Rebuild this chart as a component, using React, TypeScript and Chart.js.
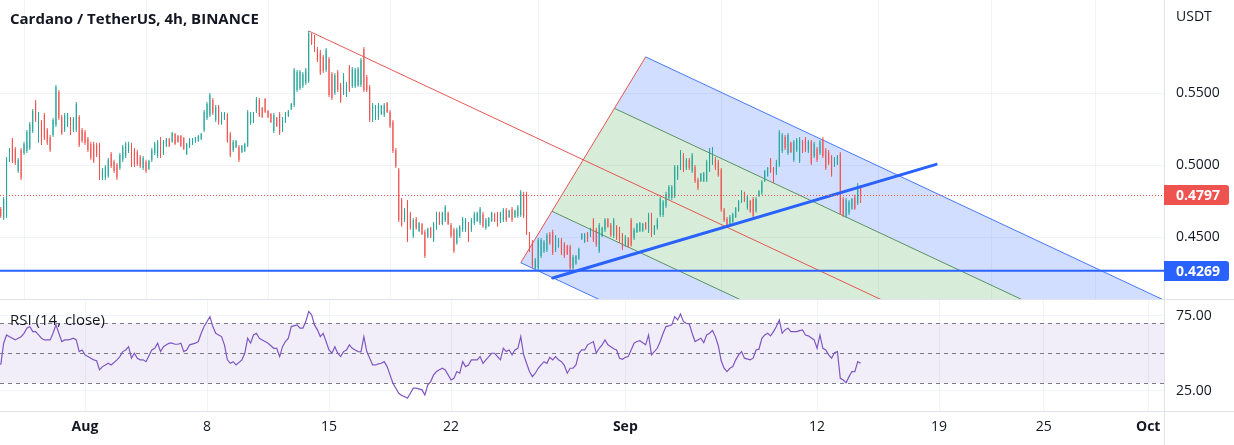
import React, { useEffect, useRef } from 'react';
import { Chart, registerables } from 'chart.js';

Chart.register(...registerables);

const FONT = "'Open Sans', 'Noto Sans', sans-serif";

// ---- time ----
const startTime = Date.UTC(2022, 6, 27, 4); // first 4h candle (Jul 27 04:00 UTC)
const CANDLE_MS = 4 * 3600 * 1000;
const AUG1 = Date.UTC(2022, 7, 1);
const DAY = 86400000;
const dayOf = (t: number) => (t - AUG1) / DAY;

// ---- candles (ADA/USDT, 4h) ----
const opens = [
  0.4698, 0.4636, 0.4650, 0.5039, 0.5177, 0.5115, 0.4962, 0.5108, 0.5087, 0.5101,
  0.5122, 0.5240, 0.5441, 0.5170, 0.5302, 0.5351, 0.5247, 0.5198, 0.5212, 0.5282,
  0.5511, 0.5337, 0.5247, 0.5275, 0.5323, 0.5247, 0.5247, 0.5337, 0.5247, 0.5233,
  0.5184, 0.5150, 0.5150, 0.5143, 0.5143, 0.4914, 0.4914, 0.4928, 0.5080, 0.5025,
  0.5004, 0.4983, 0.5039, 0.5066, 0.5101, 0.5143, 0.5108, 0.5094, 0.5059, 0.4983,
  0.5025, 0.4976, 0.5039, 0.5087, 0.5066, 0.5184, 0.5087, 0.5136, 0.5184, 0.5164,
  0.5219, 0.5205, 0.5205, 0.5191, 0.5080, 0.5129, 0.5150, 0.5164, 0.5170, 0.5184,
  0.5247, 0.5330, 0.5351, 0.5455, 0.5316, 0.5406, 0.5295, 0.5323, 0.5351, 0.5219,
  0.5108, 0.5129, 0.5129, 0.5094, 0.5101, 0.5143, 0.5295, 0.5302, 0.5379, 0.5455,
  0.5399, 0.5462, 0.5379, 0.5358, 0.5240, 0.5330, 0.5358, 0.5247, 0.5302, 0.5344,
  0.5393, 0.5420, 0.5524, 0.5538, 0.5552, 0.5573, 0.5587, 0.5913, 0.5892, 0.5809,
  0.5788, 0.5753, 0.5663, 0.5740, 0.5635, 0.5504, 0.5649, 0.5559, 0.5504, 0.5490,
  0.5684, 0.5552, 0.5552, 0.5559, 0.5559, 0.5809, 0.5615, 0.5545, 0.5316, 0.5330,
  0.5330, 0.5358, 0.5351, 0.5434, 0.5372, 0.5302, 0.5108, 0.4969, 0.4761, 0.4622,
  0.4747, 0.4664, 0.4511, 0.4629, 0.4546, 0.4594, 0.4539, 0.4504, 0.4567, 0.4483,
  0.4567, 0.4671, 0.4594, 0.4622, 0.4671, 0.4587, 0.4553, 0.4462, 0.4511, 0.4553,
  0.4553, 0.4594, 0.4553, 0.4601, 0.4615, 0.4601, 0.4664, 0.4567, 0.4580, 0.4615,
  0.4664, 0.4664, 0.4608, 0.4622, 0.4692, 0.4643, 0.4698, 0.4643, 0.4650, 0.4657,
  0.4803, 0.4803, 0.4525, 0.4469, 0.4289, 0.4289, 0.4372, 0.4407, 0.4414, 0.4525,
  0.4539, 0.4414, 0.4435, 0.4483, 0.4455, 0.4442, 0.4435, 0.4289, 0.4317, 0.4351,
  0.4490, 0.4469, 0.4532, 0.4511, 0.4622, 0.4553, 0.4407, 0.4511, 0.4553, 0.4629,
  0.4587, 0.4511, 0.4574, 0.4560, 0.4518, 0.4449, 0.4497, 0.4622, 0.4497, 0.4539,
  0.4546, 0.4546, 0.4601, 0.4546, 0.4657, 0.4525, 0.4567, 0.4657, 0.4657, 0.4719,
  0.4775, 0.4775, 0.4789, 0.4914, 0.4983, 0.5073, 0.4983, 0.5039, 0.4962, 0.4990,
  0.4900, 0.4893, 0.4893, 0.4900, 0.4969, 0.5018, 0.5045, 0.5025, 0.4969, 0.4692,
  0.4629, 0.4587, 0.4608, 0.4643, 0.4685, 0.4747, 0.4810, 0.4705, 0.4754, 0.4768,
  0.4685, 0.4789, 0.4810, 0.4893, 0.4928, 0.5039, 0.4976, 0.4948, 0.5004, 0.5101,
  0.5198, 0.5087, 0.5157, 0.5039, 0.5108, 0.5032, 0.5164, 0.5184, 0.5101, 0.5164,
  0.5066, 0.5115, 0.5087, 0.5184, 0.5108, 0.5094, 0.5059, 0.4997, 0.5011, 0.5080,
  0.4768, 0.4650, 0.4671, 0.4699, 0.4782, 0.4740, 0.4851,
];
const highs = [
  0.4712, 0.4782, 0.5059, 0.5122, 0.5191, 0.5129, 0.5052, 0.5122, 0.5164, 0.5247,
  0.5302, 0.5393, 0.5455, 0.5372, 0.5316, 0.5365, 0.5261, 0.5212, 0.5330, 0.5559,
  0.5524, 0.5351, 0.5365, 0.5365, 0.5337, 0.5337, 0.5441, 0.5351, 0.5261, 0.5247,
  0.5198, 0.5164, 0.5164, 0.5157, 0.5157, 0.4983, 0.5004, 0.5052, 0.5094, 0.5039,
  0.5018, 0.5087, 0.5143, 0.5164, 0.5164, 0.5157, 0.5122, 0.5108, 0.5073, 0.5066,
  0.5039, 0.5039, 0.5122, 0.5164, 0.5177, 0.5198, 0.5177, 0.5191, 0.5191, 0.5233,
  0.5226, 0.5212, 0.5212, 0.5198, 0.5157, 0.5191, 0.5191, 0.5198, 0.5212, 0.5226,
  0.5386, 0.5441, 0.5504, 0.5469, 0.5420, 0.5420, 0.5372, 0.5372, 0.5365, 0.5233,
  0.5177, 0.5177, 0.5143, 0.5143, 0.5157, 0.5386, 0.5372, 0.5372, 0.5476, 0.5469,
  0.5406, 0.5469, 0.5386, 0.5365, 0.5365, 0.5337, 0.5372, 0.5337, 0.5372, 0.5386,
  0.5434, 0.5677, 0.5663, 0.5663, 0.5649, 0.5677, 0.5934, 0.5920, 0.5906, 0.5823,
  0.5802, 0.5767, 0.5816, 0.5753, 0.5649, 0.5642, 0.5663, 0.5573, 0.5642, 0.5580,
  0.5698, 0.5684, 0.5677, 0.5684, 0.5747, 0.5823, 0.5629, 0.5559, 0.5434, 0.5420,
  0.5434, 0.5420, 0.5434, 0.5441, 0.5386, 0.5316, 0.5122, 0.4983, 0.4775, 0.4705,
  0.4761, 0.4678, 0.4636, 0.4643, 0.4608, 0.4601, 0.4553, 0.4567, 0.4574, 0.4608,
  0.4678, 0.4678, 0.4678, 0.4726, 0.4678, 0.4601, 0.4567, 0.4567, 0.4587, 0.4643,
  0.4636, 0.4608, 0.4636, 0.4678, 0.4678, 0.4712, 0.4678, 0.4636, 0.4643, 0.4678,
  0.4671, 0.4678, 0.4678, 0.4705, 0.4705, 0.4692, 0.4712, 0.4692, 0.4726, 0.4830,
  0.4817, 0.4817, 0.4539, 0.4483, 0.4358, 0.4497, 0.4497, 0.4483, 0.4532, 0.4539,
  0.4553, 0.4518, 0.4497, 0.4497, 0.4469, 0.4449, 0.4449, 0.4379, 0.4379, 0.4428,
  0.4532, 0.4532, 0.4539, 0.4567, 0.4636, 0.4567, 0.4601, 0.4574, 0.4636, 0.4636,
  0.4601, 0.4636, 0.4587, 0.4574, 0.4532, 0.4518, 0.4504, 0.4636, 0.4567, 0.4601,
  0.4608, 0.4601, 0.4608, 0.4671, 0.4671, 0.4587, 0.4636, 0.4782, 0.4761, 0.4817,
  0.4865, 0.4865, 0.5004, 0.5004, 0.5108, 0.5087, 0.5052, 0.5052, 0.5087, 0.5004,
  0.4914, 0.4948, 0.4955, 0.5039, 0.5122, 0.5129, 0.5059, 0.5039, 0.4983, 0.4705,
  0.4643, 0.4657, 0.4671, 0.4712, 0.4761, 0.4830, 0.4817, 0.4796, 0.4761, 0.4782,
  0.4782, 0.4830, 0.4900, 0.4969, 0.4990, 0.5052, 0.4990, 0.5039, 0.5247, 0.5226,
  0.5212, 0.5226, 0.5164, 0.5177, 0.5191, 0.5198, 0.5177, 0.5198, 0.5177, 0.5177,
  0.5164, 0.5129, 0.5177, 0.5198, 0.5122, 0.5108, 0.5073, 0.5059, 0.5073, 0.5094,
  0.4782, 0.4775, 0.4761, 0.4775, 0.4796, 0.4879, 0.4865,
];
const lows = [
  0.4636, 0.4622, 0.4636, 0.5025, 0.5018, 0.5004, 0.4948, 0.4900, 0.5073, 0.5087,
  0.5108, 0.5226, 0.5302, 0.5157, 0.5143, 0.5177, 0.5143, 0.5094, 0.5198, 0.5268,
  0.5316, 0.5212, 0.5233, 0.5268, 0.5212, 0.5233, 0.5233, 0.5129, 0.5157, 0.5143,
  0.5094, 0.5039, 0.5018, 0.5059, 0.4900, 0.4900, 0.4900, 0.4914, 0.4983, 0.4948,
  0.4900, 0.4969, 0.5025, 0.5052, 0.5087, 0.4990, 0.4990, 0.4997, 0.4983, 0.4969,
  0.4948, 0.4969, 0.5025, 0.5073, 0.5052, 0.5052, 0.5073, 0.5129, 0.5129, 0.5157,
  0.5143, 0.5157, 0.5129, 0.5108, 0.5073, 0.5122, 0.5143, 0.5157, 0.5164, 0.5177,
  0.5233, 0.5316, 0.5337, 0.5351, 0.5302, 0.5282, 0.5282, 0.5316, 0.5157, 0.5059,
  0.5094, 0.5122, 0.5025, 0.5087, 0.5094, 0.5129, 0.5282, 0.5295, 0.5365, 0.5337,
  0.5330, 0.5365, 0.5330, 0.5295, 0.5226, 0.5268, 0.5212, 0.5233, 0.5295, 0.5337,
  0.5386, 0.5406, 0.5511, 0.5524, 0.5538, 0.5559, 0.5573, 0.5837, 0.5788, 0.5719,
  0.5629, 0.5642, 0.5649, 0.5476, 0.5455, 0.5490, 0.5511, 0.5434, 0.5490, 0.5476,
  0.5511, 0.5538, 0.5538, 0.5545, 0.5545, 0.5511, 0.5511, 0.5302, 0.5302, 0.5316,
  0.5316, 0.5351, 0.5337, 0.5365, 0.5261, 0.5087, 0.4983, 0.4608, 0.4574, 0.4608,
  0.4469, 0.4553, 0.4497, 0.4553, 0.4539, 0.4518, 0.4358, 0.4497, 0.4497, 0.4469,
  0.4553, 0.4587, 0.4587, 0.4608, 0.4587, 0.4497, 0.4393, 0.4449, 0.4497, 0.4539,
  0.4539, 0.4469, 0.4539, 0.4587, 0.4608, 0.4587, 0.4567, 0.4553, 0.4574, 0.4608,
  0.4608, 0.4574, 0.4601, 0.4608, 0.4608, 0.4636, 0.4608, 0.4636, 0.4636, 0.4643,
  0.4636, 0.4518, 0.4400, 0.4289, 0.4275, 0.4275, 0.4358, 0.4393, 0.4400, 0.4449,
  0.4379, 0.4400, 0.4428, 0.4379, 0.4358, 0.4379, 0.4275, 0.4275, 0.4310, 0.4345,
  0.4483, 0.4462, 0.4469, 0.4504, 0.4469, 0.4435, 0.4393, 0.4504, 0.4539, 0.4567,
  0.4504, 0.4497, 0.4483, 0.4462, 0.4414, 0.4435, 0.4428, 0.4435, 0.4483, 0.4532,
  0.4539, 0.4539, 0.4553, 0.4532, 0.4504, 0.4518, 0.4553, 0.4643, 0.4643, 0.4705,
  0.4761, 0.4761, 0.4775, 0.4900, 0.4969, 0.4955, 0.4969, 0.4969, 0.4948, 0.4879,
  0.4830, 0.4886, 0.4886, 0.4886, 0.4955, 0.5004, 0.4969, 0.4921, 0.4678, 0.4608,
  0.4567, 0.4574, 0.4601, 0.4636, 0.4678, 0.4740, 0.4747, 0.4692, 0.4671, 0.4636,
  0.4671, 0.4782, 0.4796, 0.4886, 0.4921, 0.4948, 0.4879, 0.4934, 0.4990, 0.5087,
  0.5108, 0.5073, 0.5087, 0.5025, 0.5094, 0.5018, 0.5087, 0.5094, 0.5087, 0.5004,
  0.5052, 0.5025, 0.5073, 0.5052, 0.4969, 0.5004, 0.4921, 0.4990, 0.5004, 0.4657,
  0.4643, 0.4636, 0.4657, 0.4692, 0.4692, 0.4726, 0.4740,
];
const closes = [
  0.4650, 0.4768, 0.5045, 0.5108, 0.5032, 0.5018, 0.5039, 0.4914, 0.5150, 0.5233,
  0.5288, 0.5379, 0.5316, 0.5358, 0.5157, 0.5191, 0.5157, 0.5108, 0.5316, 0.5545,
  0.5330, 0.5226, 0.5351, 0.5358, 0.5226, 0.5323, 0.5427, 0.5143, 0.5170, 0.5157,
  0.5108, 0.5052, 0.5032, 0.5073, 0.4914, 0.4969, 0.4990, 0.5039, 0.4997, 0.4962,
  0.4914, 0.5073, 0.5129, 0.5150, 0.5150, 0.5004, 0.5004, 0.5011, 0.4997, 0.5052,
  0.4962, 0.5032, 0.5108, 0.5150, 0.5164, 0.5066, 0.5164, 0.5184, 0.5136, 0.5226,
  0.5150, 0.5164, 0.5136, 0.5115, 0.5150, 0.5184, 0.5184, 0.5191, 0.5205, 0.5219,
  0.5372, 0.5427, 0.5490, 0.5365, 0.5406, 0.5295, 0.5358, 0.5365, 0.5170, 0.5073,
  0.5164, 0.5170, 0.5039, 0.5136, 0.5150, 0.5372, 0.5358, 0.5365, 0.5462, 0.5351,
  0.5337, 0.5372, 0.5337, 0.5302, 0.5351, 0.5275, 0.5226, 0.5323, 0.5365, 0.5379,
  0.5427, 0.5663, 0.5649, 0.5649, 0.5635, 0.5663, 0.5920, 0.5844, 0.5802, 0.5733,
  0.5642, 0.5656, 0.5802, 0.5490, 0.5469, 0.5629, 0.5524, 0.5448, 0.5629, 0.5566,
  0.5524, 0.5670, 0.5663, 0.5670, 0.5733, 0.5524, 0.5524, 0.5316, 0.5420, 0.5406,
  0.5420, 0.5413, 0.5420, 0.5372, 0.5275, 0.5101, 0.4997, 0.4622, 0.4587, 0.4692,
  0.4483, 0.4567, 0.4622, 0.4567, 0.4601, 0.4525, 0.4372, 0.4560, 0.4504, 0.4594,
  0.4664, 0.4594, 0.4671, 0.4712, 0.4594, 0.4511, 0.4407, 0.4553, 0.4574, 0.4629,
  0.4622, 0.4483, 0.4622, 0.4664, 0.4671, 0.4698, 0.4580, 0.4622, 0.4636, 0.4671,
  0.4615, 0.4587, 0.4671, 0.4692, 0.4622, 0.4685, 0.4622, 0.4685, 0.4712, 0.4817,
  0.4650, 0.4532, 0.4414, 0.4303, 0.4345, 0.4483, 0.4483, 0.4469, 0.4518, 0.4462,
  0.4393, 0.4504, 0.4490, 0.4393, 0.4372, 0.4386, 0.4289, 0.4365, 0.4372, 0.4421,
  0.4525, 0.4525, 0.4476, 0.4560, 0.4483, 0.4449, 0.4587, 0.4567, 0.4622, 0.4574,
  0.4518, 0.4622, 0.4497, 0.4476, 0.4428, 0.4504, 0.4435, 0.4449, 0.4553, 0.4594,
  0.4601, 0.4594, 0.4560, 0.4657, 0.4518, 0.4580, 0.4622, 0.4768, 0.4747, 0.4803,
  0.4851, 0.4851, 0.4990, 0.4990, 0.5094, 0.4969, 0.5039, 0.4983, 0.5073, 0.4893,
  0.4844, 0.4941, 0.4948, 0.5025, 0.5108, 0.5115, 0.4983, 0.4934, 0.4692, 0.4622,
  0.4580, 0.4643, 0.4664, 0.4705, 0.4754, 0.4823, 0.4754, 0.4782, 0.4678, 0.4650,
  0.4768, 0.4823, 0.4886, 0.4962, 0.4983, 0.4962, 0.4893, 0.5025, 0.5233, 0.5212,
  0.5122, 0.5212, 0.5094, 0.5164, 0.5177, 0.5184, 0.5101, 0.5108, 0.5164, 0.5018,
  0.5150, 0.5039, 0.5164, 0.5066, 0.4983, 0.5018, 0.4934, 0.5052, 0.5066, 0.4671,
  0.4657, 0.4761, 0.4747, 0.4768, 0.4699, 0.4865, 0.4797,
];

// ---- RSI(14, close) readings: [candle index, value] ----
const rsiReadings: [number, number][] = [
  [0, 42.2], [1, 56.7], [2, 62.2], [3, 61], [5, 58.9], [6, 60], [7, 61], [8, 63.3], [9, 66.7], [10, 67.8],
  [11, 64.4], [12, 64.4], [13, 62.2], [14, 60], [15, 58.9], [17, 58.9], [18, 63.3], [19, 68.9], [20, 63.3], [21, 57.8],
  [22, 58.9], [23, 58.9], [24, 59.3], [25, 60], [26, 58.9], [27, 51.1], [28, 52.2], [29, 48.9], [30, 47.8], [31, 46.7],
  [32, 45.6], [33, 45], [34, 38.9], [35, 41.1], [36, 42.2], [37, 43.3], [38, 42.2], [40, 45.6], [41, 47.8], [42, 51.1],
  [43, 52.2], [44, 54.4], [45, 46.7], [46, 50], [47, 46.7], [48, 45.6], [49, 45.6], [50, 44.4], [52, 52.2], [53, 53.3],
  [54, 56.7], [55, 51.1], [56, 54.4], [57, 55.6], [58, 56.7], [59, 56.7], [60, 56], [61, 56], [62, 56.7], [63, 51.1],
  [64, 52.2], [65, 55.6], [67, 56.7], [68, 57.8], [69, 63.3], [70, 67.8], [72, 74.4], [73, 67.8], [74, 63.3], [75, 62.2],
  [76, 61.1], [77, 55.6], [78, 45.6], [79, 43.3], [80, 44.4], [81, 42.2], [83, 45.6], [84, 50], [85, 60], [86, 56.7],
  [87, 62.2], [88, 63.3], [89, 60], [90, 58.9], [91, 57.8], [92, 56.7], [94, 53.3], [95, 53.3], [96, 47.8], [97, 54.4],
  [98, 57.8], [99, 60], [100, 67.8], [102, 68.9], [103, 66.7], [104, 66.7], [105, 71.1], [106, 77.8], [107, 75.6], [108, 68.9],
  [109, 65.6], [110, 61.1], [111, 63.3], [113, 52.2], [114, 50], [115, 54.4], [116, 50], [117, 47.8], [118, 51.1], [119, 52.2],
  [120, 55.6], [121, 53.3], [122, 52.2], [123, 51.1], [124, 51], [125, 61.1], [126, 51.1], [127, 46.7], [128, 42.2], [129, 42.2],
  [130, 42.9], [131, 43.3], [132, 44.4], [133, 41.1], [134, 35.6], [135, 30], [136, 26.7], [137, 23.3], [138, 21.8], [139, 21.1],
  [140, 20], [141, 23.3], [142, 26.7], [143, 26.7], [145, 25.6], [146, 22.2], [147, 28.9], [148, 31.1], [149, 35.6], [150, 37.8],
  [151, 39], [152, 40], [153, 38.9], [154, 35.6], [155, 32.2], [156, 33.3], [157, 37.8], [158, 36.7], [159, 44.4], [160, 41.1],
  [161, 42.2], [162, 45.6], [164, 45.6], [165, 47.8], [166, 43.3], [167, 45.6], [168, 47.8], [169, 50], [170, 50], [172, 45.6],
  [173, 53.3], [174, 51.1], [175, 52.2], [176, 48.9], [177, 52.2], [178, 53.3], [179, 61.1], [180, 48.9], [181, 43.3], [182, 37.8],
  [183, 34.4], [184, 36.7], [185, 40], [186, 42.2], [187, 44.4], [188, 43.3], [189, 47.3], [190, 45.6], [191, 47.8], [192, 45.6],
  [193, 44.4], [194, 42], [195, 36.7], [196, 40], [197, 40], [198, 42.2], [199, 50], [200, 52.2], [201, 52.2], [202, 55.6],
  [204, 57.8], [205, 50], [206, 53.3], [207, 55.6], [208, 58.9], [209, 55.6], [210, 54.4], [211, 53], [212, 52.2], [213, 46.7],
  [214, 46], [215, 47.3], [216, 47.8], [217, 52.2], [218, 56.7], [219, 57.8], [220, 58.4], [221, 57], [222, 55.6], [223, 62.2],
  [224, 48.9], [226, 53.3], [227, 57.8], [228, 63.3], [229, 67.8], [230, 68.2], [231, 68.9], [232, 74.4], [233, 72.2], [234, 76.2],
  [235, 71.1], [236, 70], [237, 69.6], [238, 63.3], [239, 57.8], [241, 60], [242, 57.1], [243, 62.2], [244, 63.3], [245, 65.1],
  [246, 61.1], [247, 55], [248, 45], [249, 40], [250, 37.8], [251, 40], [252, 41.1], [253, 45.6], [254, 48.9], [255, 51.1],
  [256, 46.7], [258, 45.6], [259, 46.7], [260, 52.2], [261, 52.7], [262, 60], [263, 62.2], [264, 63.3], [265, 61.6], [266, 64.4],
  [267, 67.8], [268, 72.2], [269, 63.3], [270, 65.6], [271, 66.7], [272, 64.4], [273, 64.4], [274, 64.4], [275, 65.1], [276, 65.6],
  [277, 62.2], [278, 61.6], [280, 58.9], [281, 53.3], [282, 62.2], [283, 53.3], [284, 52.2], [285, 48.9], [286, 46.7], [287, 50.4],
  [288, 51.1], [289, 33.3], [290, 32.2], [291, 30.4], [292, 34.4], [293, 37.8], [294, 37.8], [295, 44.4], [296, 43.3],
];

// ---- axes ----
const timeTickDates = ['2022-08-01', '2022-08-08', '2022-08-15', '2022-08-22', '2022-09-01', '2022-09-12', '2022-09-19', '2022-09-25', '2022-10-01'];
const timeTickLabels = ['Aug', '8', '15', '22', 'Sep', '12', '19', '25', 'Oct'];
const priceTicks = [0.45, 0.5, 0.55];
const rsiTicks = [25, 75];
const rsiLevels = [70, 50, 30];

// ---- drawings ----
const pitchforkTimes = ['2022-08-13T20:00:00Z', '2022-08-26T00:00:00Z', '2022-09-02T04:00:00Z'];
const pitchforkPrices = [0.5934, 0.4325, 0.5754];
const trendTimes = ['2022-08-27T20:00:00Z', '2022-09-18T20:00:00Z'];
const trendPrices = [0.4219, 0.5008];
const supportLevel = 0.4269;
const lastPrice = closes[closes.length - 1];

// ---- view ranges ----
const X_MIN = -4.877;
const X_MAX = 61.905;
const PRICE_MIN = 0.4073;
const PRICE_MAX = 0.6149;
const RSI_MIN = 11.5;
const RSI_MAX = 85.5;

const UP = '#26a69a';
const DOWN = '#ef5350';
const GRID = '#f0f3fa';
const SEP = '#e0e3eb';
const TEXT = '#131722';

const tickDays = timeTickDates.map((s) => dayOf(Date.parse(s)));
const candleDays = closes.map((_, i) => dayOf(startTime + i * CANDLE_MS));
const candleColors = closes.map((c, i) => (c >= opens[i] ? UP : DOWN));

const pricePlugin = {
  id: 'priceDrawings',
  beforeDatasetsDraw(chart: any) {
    const { ctx, chartArea: a, scales } = chart;
    const xs = scales.x, ys = scales.y;
    const pt = (q: { d: number; p: number }) => [xs.getPixelForValue(q.d), ys.getPixelForValue(q.p)];
    const [A, B, C] = pitchforkTimes.map((t, i) => ({ d: dayOf(Date.parse(t)), p: pitchforkPrices[i] }));
    const mid = (u: any, v: any) => ({ d: (u.d + v.d) / 2, p: (u.p + v.p) / 2 });
    const M = mid(B, C);
    const dir = { d: M.d - A.d, p: M.p - A.p };
    const ext = (q: any, t: number) => ({ d: q.d + dir.d * t, p: q.p + dir.p * t });
    const G1 = mid(C, M);
    const G2 = mid(B, M);
    const FAR = 8;
    ctx.save();
    ctx.beginPath();
    ctx.rect(a.left, a.top, a.right - a.left, a.bottom - a.top);
    ctx.clip();
    const band = (s1: any, s2: any, color: string) => {
      const pts = [s1, s2, ext(s2, FAR), ext(s1, FAR)].map(pt);
      ctx.beginPath();
      ctx.moveTo(pts[0][0], pts[0][1]);
      for (let i = 1; i < pts.length; i++) ctx.lineTo(pts[i][0], pts[i][1]);
      ctx.closePath();
      ctx.fillStyle = color;
      ctx.fill();
    };
    const blueFill = 'rgba(41, 98, 255, 0.21)';
    const greenFill = 'rgba(76, 175, 80, 0.22)';
    band(C, G1, blueFill);
    band(G1, M, greenFill);
    band(M, G2, greenFill);
    band(G2, B, blueFill);
    const seg = (p1: any, p2: any, color: string, w: number) => {
      const [x1, y1] = pt(p1);
      const [x2, y2] = pt(p2);
      ctx.beginPath();
      ctx.moveTo(x1, y1);
      ctx.lineTo(x2, y2);
      ctx.strokeStyle = color;
      ctx.lineWidth = w;
      ctx.stroke();
    };
    seg(C, ext(C, FAR), 'rgba(41, 98, 255, 0.85)', 1);
    seg(B, ext(B, FAR), 'rgba(41, 98, 255, 0.85)', 1);
    seg(G1, ext(G1, FAR), 'rgba(67, 130, 70, 0.85)', 1);
    seg(G2, ext(G2, FAR), 'rgba(67, 130, 70, 0.85)', 1);
    seg(A, ext(A, FAR + 1), 'rgba(229, 57, 53, 0.85)', 1);
    seg(B, C, 'rgba(229, 57, 53, 0.85)', 1);
    ctx.restore();
  },
  afterDatasetsDraw(chart: any) {
    const { ctx, chartArea: a, scales } = chart;
    const xs = scales.x, ys = scales.y;
    ctx.save();
    ctx.beginPath();
    ctx.rect(a.left, a.top, a.right - a.left, a.bottom - a.top);
    ctx.clip();
    // support level
    const sy = ys.getPixelForValue(supportLevel);
    ctx.beginPath();
    ctx.moveTo(a.left, sy);
    ctx.lineTo(a.right, sy);
    ctx.strokeStyle = '#2962ff';
    ctx.lineWidth = 2;
    ctx.stroke();
    // trend line
    const t1 = [xs.getPixelForValue(dayOf(Date.parse(trendTimes[0]))), ys.getPixelForValue(trendPrices[0])];
    const t2 = [xs.getPixelForValue(dayOf(Date.parse(trendTimes[1]))), ys.getPixelForValue(trendPrices[1])];
    ctx.beginPath();
    ctx.moveTo(t1[0], t1[1]);
    ctx.lineTo(t2[0], t2[1]);
    ctx.strokeStyle = '#2962ff';
    ctx.lineWidth = 3;
    ctx.lineCap = 'round';
    ctx.stroke();
    // last price dotted line
    const ly = Math.round(ys.getPixelForValue(lastPrice)) + 0.5;
    ctx.beginPath();
    ctx.setLineDash([1, 2]);
    ctx.moveTo(a.left, ly);
    ctx.lineTo(a.right, ly);
    ctx.strokeStyle = DOWN;
    ctx.lineWidth = 1;
    ctx.lineCap = 'butt';
    ctx.stroke();
    ctx.restore();
  },
  afterDraw(chart: any) {
    const { ctx, chartArea: a, scales, width } = chart;
    const ys = scales.y;
    ctx.save();
    const tag = (val: number, color: string) => {
      const yy = Math.round(ys.getPixelForValue(val));
      ctx.fillStyle = color;
      ctx.beginPath();
      if (ctx.roundRect) ctx.roundRect(a.right, yy - 10, 65, 20, [0, 3, 3, 0]);
      else ctx.rect(a.right, yy - 10, 65, 20);
      ctx.fill();
      ctx.fillStyle = '#ffffff';
      ctx.font = `bold 14px ${FONT}`;
      ctx.textAlign = 'left';
      ctx.textBaseline = 'middle';
      ctx.fillText(val.toFixed(4), a.right + 12, yy + 1);
    };
    tag(lastPrice, DOWN);
    tag(supportLevel, '#2962ff');
    // title & currency
    ctx.fillStyle = TEXT;
    ctx.font = `bold 15px ${FONT}`;
    ctx.textAlign = 'left';
    ctx.textBaseline = 'middle';
    ctx.fillText('Cardano / TetherUS, 4h, BINANCE', 10, 20);
    ctx.font = `14px ${FONT}`;
    ctx.fillText('USDT', a.right + 12, 17);
    // pane separator
    ctx.beginPath();
    ctx.moveTo(0, a.bottom + 0.5);
    ctx.lineTo(width, a.bottom + 0.5);
    ctx.strokeStyle = SEP;
    ctx.lineWidth = 1;
    ctx.stroke();
    ctx.restore();
  },
};

const rsiPlugin = {
  id: 'rsiDrawings',
  beforeDatasetsDraw(chart: any) {
    const { ctx, chartArea: a, scales } = chart;
    const ys = scales.y;
    ctx.save();
    const yTop = ys.getPixelForValue(rsiLevels[0]);
    const yBot = ys.getPixelForValue(rsiLevels[2]);
    ctx.fillStyle = 'rgba(126, 87, 194, 0.1)';
    ctx.fillRect(a.left, yTop, a.right - a.left, yBot - yTop);
    ctx.setLineDash([4, 4]);
    ctx.strokeStyle = '#787b86';
    ctx.lineWidth = 1;
    rsiLevels.forEach((lv) => {
      const yy = Math.round(ys.getPixelForValue(lv)) + 0.5;
      ctx.beginPath();
      ctx.moveTo(a.left, yy);
      ctx.lineTo(a.right, yy);
      ctx.stroke();
    });
    ctx.restore();
  },
  afterDraw(chart: any) {
    const { ctx, chartArea: a, width, height } = chart;
    ctx.save();
    ctx.fillStyle = TEXT;
    ctx.font = `15px ${FONT}`;
    ctx.textAlign = 'left';
    ctx.textBaseline = 'middle';
    ctx.fillText('RSI (14, close)', 10, 21);
    ctx.strokeStyle = SEP;
    ctx.lineWidth = 1;
    ctx.beginPath();
    ctx.moveTo(0, a.bottom + 0.5);
    ctx.lineTo(width, a.bottom + 0.5);
    ctx.moveTo(a.right + 0.5, a.bottom);
    ctx.lineTo(a.right + 0.5, height);
    ctx.stroke();
    ctx.restore();
  },
};

const xTickFont = (ctx: any) => {
  const i = tickDays.indexOf(ctx.tick ? ctx.tick.value : NaN);
  const label = i >= 0 ? timeTickLabels[i] : '';
  const isMonth = /^[A-Za-z]/.test(label);
  return { family: FONT, size: 14, weight: isMonth ? 'bold' : 'normal' };
};

export default function App() {
  const priceRef = useRef<HTMLCanvasElement>(null);
  const rsiRef = useRef<HTMLCanvasElement>(null);

  useEffect(() => {
    Chart.defaults.font.family = FONT;
    const common = {
      responsive: false,
      animation: false as const,
      devicePixelRatio: 1,
      events: [] as any[],
      layout: { padding: 0 },
    };

    const priceChart = new Chart(priceRef.current as HTMLCanvasElement, {
      type: 'bar',
      data: {
        datasets: [
          {
            label: 'wick',
            data: candleDays.map((d, i) => ({ x: d, y: [lows[i], highs[i]] })) as any,
            backgroundColor: candleColors,
            barThickness: 1,
            grouped: false,
            borderWidth: 0,
            inflateAmount: 0,
          } as any,
          {
            label: 'body',
            data: candleDays.map((d, i) => ({ x: d, y: [opens[i], closes[i]] })) as any,
            backgroundColor: candleColors,
            barThickness: 1,
            grouped: false,
            borderWidth: 0,
            inflateAmount: 0,
          } as any,
        ],
      },
      options: {
        ...common,
        plugins: { legend: { display: false }, tooltip: { enabled: false } },
        scales: {
          x: {
            type: 'linear',
            min: X_MIN,
            max: X_MAX,
            offset: false,
            afterBuildTicks: (s: any) => { s.ticks = tickDays.map((v) => ({ value: v })); },
            afterFit: (s: any) => { s.height = 1; s.paddingLeft = 0; s.paddingRight = 0; },
            grid: { color: GRID, drawTicks: false },
            border: { display: false },
            ticks: { display: false },
          },
          y: {
            position: 'right',
            min: PRICE_MIN,
            max: PRICE_MAX,
            afterBuildTicks: (s: any) => { s.ticks = priceTicks.map((v) => ({ value: v })); },
            afterFit: (s: any) => { s.width = 70; s.paddingTop = 0; s.paddingBottom = 0; },
            grid: { color: GRID, drawTicks: false },
            border: { display: true, color: SEP },
            ticks: {
              padding: 12,
              color: TEXT,
              font: { family: FONT, size: 14 },
              callback: (v: any) => Number(v).toFixed(4),
            },
          },
        },
      } as any,
      plugins: [pricePlugin],
    });

    const rsiChart = new Chart(rsiRef.current as HTMLCanvasElement, {
      type: 'line',
      data: {
        datasets: [
          {
            label: 'RSI',
            data: rsiReadings.map(([i, v]) => ({ x: candleDays[i], y: v })),
            borderColor: '#7e57c2',
            borderWidth: 1.2,
            pointRadius: 0,
            tension: 0,
            fill: false,
          },
        ],
      },
      options: {
        ...common,
        plugins: { legend: { display: false }, tooltip: { enabled: false } },
        scales: {
          x: {
            type: 'linear',
            min: X_MIN,
            max: X_MAX,
            offset: false,
            afterBuildTicks: (s: any) => { s.ticks = tickDays.map((v) => ({ value: v })); },
            afterFit: (s: any) => { s.height = 34; s.paddingLeft = 0; s.paddingRight = 0; },
            grid: { color: GRID, drawTicks: false },
            border: { display: false },
            ticks: {
              padding: 8,
              color: TEXT,
              autoSkip: false,
              maxRotation: 0,
              font: xTickFont,
              callback: (_v: any, i: number) => timeTickLabels[i],
            },
          },
          y: {
            position: 'right',
            min: RSI_MIN,
            max: RSI_MAX,
            afterBuildTicks: (s: any) => { s.ticks = rsiTicks.map((v) => ({ value: v })); },
            afterFit: (s: any) => { s.width = 70; s.paddingTop = 0; s.paddingBottom = 0; },
            grid: { color: GRID, drawTicks: false },
            border: { display: true, color: SEP },
            ticks: {
              padding: 12,
              color: TEXT,
              font: { family: FONT, size: 14 },
              callback: (v: any) => Number(v).toFixed(2),
            },
          },
        },
      } as any,
      plugins: [rsiPlugin],
    });

    return () => {
      priceChart.destroy();
      rsiChart.destroy();
    };
  }, []);

  return (
    <div style={{ position: 'fixed', left: 0, top: 0, width: 1234, height: 445, background: '#ffffff', overflow: 'hidden' }}>
      <canvas ref={priceRef} width={1234} height={300} style={{ position: 'absolute', left: 0, top: 0, width: 1234, height: 300 }} />
      <canvas ref={rsiRef} width={1234} height={145} style={{ position: 'absolute', left: 0, top: 300, width: 1234, height: 145 }} />
    </div>
  );
}
